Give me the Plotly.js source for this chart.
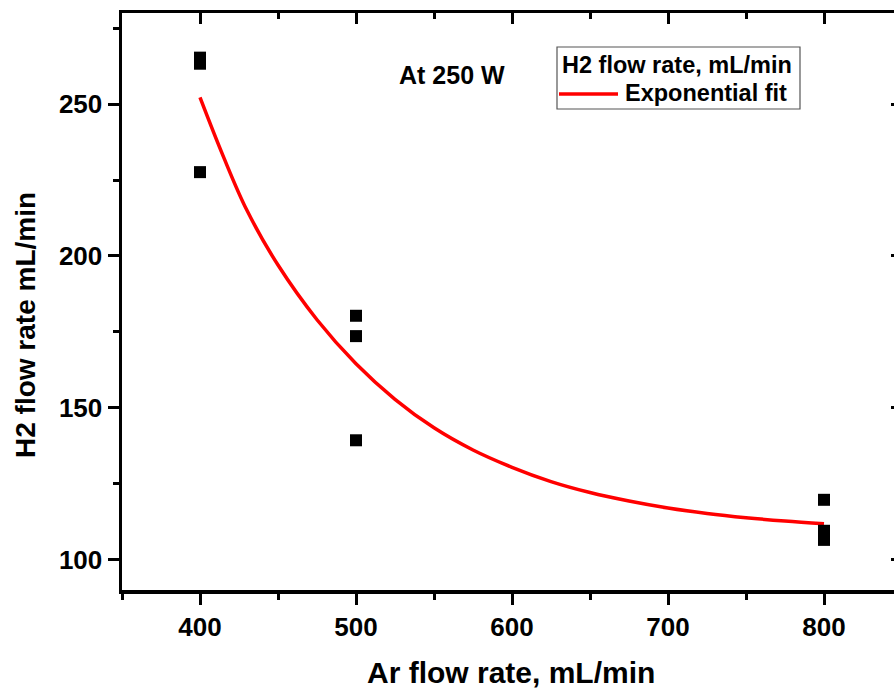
<!DOCTYPE html>
<html>
<head>
<meta charset="utf-8">
<script src="https://cdn.plot.ly/plotly-3.0.1.min.js"></script>
<style>
html, body { margin: 0; padding: 0; overflow: hidden; background: #fff; }
#chart { width: 912px; height: 692px; }
</style>
</head>
<body>
<div id="chart"></div>
<script>
// Measured data
const arFlow = [400, 400, 400, 500, 500, 500, 800, 800, 800, 800];
const h2Flow = [265.3, 263.3, 227.6, 180.3, 173.6, 139.3, 119.7, 109.5, 108.0, 106.5];

// Exponential fit curve
const fitX = [400, 415, 430, 450, 475, 500, 525, 550, 575, 600, 625, 650, 675, 700, 725, 750, 775, 800];
const fitY = [252.2, 232.7, 215.1, 197.0, 179.0, 164.5, 152.8, 143.4, 136.1, 130.4, 125.7, 122.1, 119.3, 117.0, 115.2, 113.8, 112.7, 111.8];

const xTickVals = [400, 500, 600, 700, 800];
const yTickVals = [100, 150, 200, 250];

const seriesName = 'H2 flow rate, mL/min';
const fitName = 'Exponential fit';
const xTitle = 'Ar flow rate, mL/min';
const yTitle = 'H2 flow rate mL/min';
const note = 'At 250 W';

const W = 912, H = 692;
const M = {l: 122, r: 10, t: 13, b: 102};
const pw = W - M.l - M.r, ph = H - M.t - M.b;
const px = v => (v - M.l) / pw;
const py = v => (H - M.b - v) / ph;

const FONT = 'Liberation Sans, Arial, sans-serif';
const xr = [350, 850], yr = [90, 280];

const axisCommon = {
  showgrid: false, zeroline: false, showline: true, linecolor: '#000', linewidth: 3.5,
  tickcolor: '#000', tickwidth: 3, ticklen: 11,
  tickfont: {family: FONT, size: 26, color: '#000', weight: 'bold'}
};

const traces = [
  {x: fitX, y: fitY, mode: 'lines', name: fitName, line: {color: '#ff0000', width: 3.5, shape: 'spline', smoothing: 1}, showlegend: false},
  {x: arFlow, y: h2Flow, mode: 'markers', name: seriesName,
   marker: {symbol: 'square', size: 12, color: '#000'}, showlegend: false},
  {x: [], y: [], xaxis: 'x2', yaxis: 'y2', showlegend: false, hoverinfo: 'skip'}
];

const layout = {
  width: W, height: H, margin: M,
  paper_bgcolor: '#fff', plot_bgcolor: '#fff',
  showlegend: false,
  xaxis: Object.assign({}, axisCommon, {
    range: xr, tickvals: xTickVals, ticks: 'outside',
    minor: {dtick: 50, tick0: 350, ticks: 'outside', ticklen: 6, tickwidth: 3, tickcolor: '#000'}
  }),
  yaxis: Object.assign({}, axisCommon, {
    range: yr, tickvals: yTickVals, ticks: 'outside',
    minor: {dtick: 25, tick0: 100, ticks: 'outside', ticklen: 6, tickwidth: 3, tickcolor: '#000'}
  }),
  xaxis2: Object.assign({}, axisCommon, {
    range: xr, overlaying: 'x', side: 'top', anchor: 'y2', ticks: 'inside',
    tickvals: xTickVals, showticklabels: false,
    minor: {dtick: 50, tick0: 350, ticks: 'inside', ticklen: 6, tickwidth: 3, tickcolor: '#000'}
  }),
  yaxis2: Object.assign({}, axisCommon, {
    range: yr, overlaying: 'y', side: 'right', anchor: 'x2', ticks: 'inside',
    tickvals: yTickVals, showticklabels: false,
    minor: {dtick: 25, tick0: 100, ticks: 'inside', ticklen: 6, tickwidth: 3, tickcolor: '#000'}
  }),
  shapes: [
    {type: 'rect', xref: 'paper', yref: 'paper', x0: px(557), x1: px(800), y0: py(47), y1: py(109),
     line: {color: '#555', width: 1.2}, fillcolor: 'rgba(255,255,255,0)'},
    {type: 'line', xref: 'paper', yref: 'paper', x0: px(559), x1: px(618), y0: py(94), y1: py(94),
     line: {color: '#ff0000', width: 3.5}}
  ],
  annotations: [
    {text: xTitle, xref: 'paper', yref: 'paper', x: px(511), y: py(672), showarrow: false,
     xanchor: 'center', yanchor: 'middle', font: {family: FONT, size: 30, color: '#000', weight: 'bold'}},
    {text: yTitle, xref: 'paper', yref: 'paper', x: px(25), y: py(325), showarrow: false, textangle: -90,
     xanchor: 'center', yanchor: 'middle', font: {family: FONT, size: 28, color: '#000', weight: 'bold'}},
    {text: note, xref: 'paper', yref: 'paper', x: px(452), y: py(75), showarrow: false,
     xanchor: 'center', yanchor: 'middle', font: {family: FONT, size: 25, color: '#000', weight: 'bold'}},
    {text: seriesName, xref: 'paper', yref: 'paper', x: px(560), y: py(65), showarrow: false,
     xanchor: 'left', yanchor: 'middle', font: {family: FONT, size: 23.5, color: '#000', weight: 'bold'}},
    {text: fitName, xref: 'paper', yref: 'paper', x: px(623), y: py(93), showarrow: false,
     xanchor: 'left', yanchor: 'middle', font: {family: FONT, size: 23.5, color: '#000', weight: 'bold'}}
  ]
};

Plotly.newPlot('chart', traces, layout, {staticPlot: true, displayModeBar: false});
</script>
</body>
</html>
